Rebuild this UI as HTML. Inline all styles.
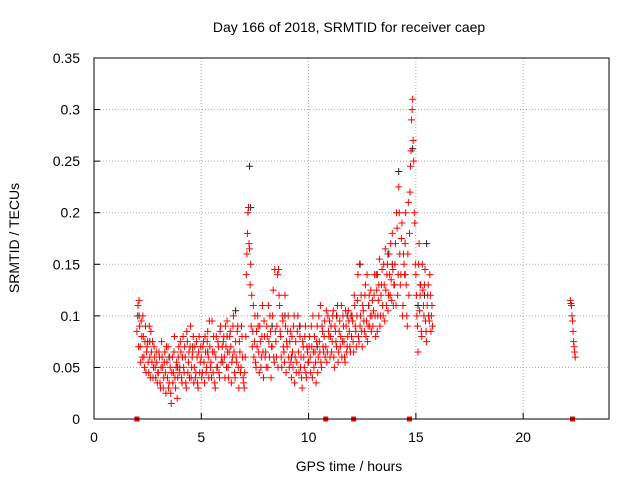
<!DOCTYPE html>
<html><head><meta charset="utf-8"><style>
body{margin:0;background:#fff}
svg{display:block;font-family:"Liberation Sans",sans-serif}
</style></head><body>
<svg id="chart" width="640" height="480">
<text x="349" y="32" text-anchor="middle" font-size="14">Day 166 of 2018, SRMTID for receiver caep</text>
<text x="349" y="471" text-anchor="middle" font-size="14">GPS time / hours</text>
<text transform="translate(19,238) rotate(-90)" text-anchor="middle" font-size="14">SRMTID / TECUs</text>
<g id="grid"></g>
<g id="ticks"></g>
<g id="black"></g>
<g id="red"></g>
<rect x="94" y="58" width="515" height="361" fill="none" stroke="#000"/>
</svg>
<script>
const xTicks=[0,5,10,15,20];
const yTicks=[0,0.05,0.1,0.15,0.2,0.25,0.3,0.35];
const yTickLabels=["0","0.05","0.1","0.15","0.2","0.25","0.3","0.35"];
const segmentStarts=[2,3,4,5,6,7,8,9,10,11,12,13,14,15,22.2];
const segmentValues=[
[.085,.11,.115,.07,.095,.06,.08,.05,.09,.065,.075,.045,.06,.085,.055,.04,.07,.05,.065,.035],
[.045,.06,.03,.075,.05,.04,.065,.025,.055,.07,.035,.05,.015,.06,.045,.08,.03,.055,.04,.07],
[.05,.065,.035,.08,.045,.06,.03,.075,.055,.04,.09,.05,.065,.035,.07,.045,.06,.03,.08,.055],
[.06,.045,.075,.035,.065,.05,.085,.04,.07,.055,.095,.045,.065,.03,.08,.05,.07,.04,.09,.06],
[.055,.08,.04,.07,.095,.05,.065,.085,.035,.06,.1,.045,.075,.055,.09,.03,.065,.05,.08,.04],
[.03,.06,.14,.18,.205,.165,.15,.12,.085,.06,.1,.05,.07,.09,.045,.075,.06,.11,.04,.08],
[.065,.09,.05,.075,.1,.04,.07,.125,.055,.085,.06,.14,.145,.11,.08,.05,.095,.065,.12,.045],
[.07,.1,.05,.085,.04,.065,.09,.035,.075,.055,.1,.045,.08,.06,.03,.07,.05,.09,.04,.065],
[.055,.08,.045,.07,.1,.05,.065,.035,.09,.06,.075,.11,.05,.085,.065,.095,.07,.055,.1,.08],
[.06,.09,.075,.105,.05,.085,.07,.11,.065,.095,.08,.06,.1,.075,.055,.09,.07,.105,.085,.065],
[.08,.095,.065,.11,.085,.1,.14,.075,.09,.12,.07,.105,.085,.13,.095,.075,.11,.09,.125,.1],
[.09,.12,.1,.14,.085,.115,.155,.1,.13,.11,.15,.095,.125,.14,.105,.16,.12,.135,.18,.11],
[.13,.17,.2,.12,.225,.16,.14,.19,.11,.15,.17,.13,.09,.21,.18,.245,.29,.31,.25,.19],
[.14,.1,.065,.17,.12,.085,.15,.11,.13,.095,.075,.12,.1,.14,.085,.11],
[.115,.11,.095,.075,.065]
];
const segmentValues2=[
[.1,.07,.09,.055,.08,.1,.06,.075,.045,.07,.055,.09,.04,.065,.075,.05,.06,.04,.055,.045],
[.065,.035,.05,.06,.03,.055,.045,.07,.04,.03,.06,.025,.045,.035,.065,.04,.05,.02,.06,.045],
[.075,.04,.06,.05,.07,.035,.085,.045,.065,.07,.04,.06,.08,.05,.04,.075,.035,.065,.045,.07],
[.04,.07,.055,.08,.045,.075,.06,.095,.05,.04,.065,.08,.035,.06,.05,.075,.045,.085,.055,.07],
[.075,.06,.09,.05,.065,.04,.08,.07,.055,.09,.065,.04,.06,.085,.05,.075,.045,.09,.06,.035],
[.045,.08,.16,.2,.17,.13,.09,.07,.11,.075,.055,.085,.1,.065,.09,.05,.08,.065,.095,.06],
[.05,.08,.11,.06,.085,.07,.1,.06,.145,.075,.09,.05,.12,.085,.06,.1,.07,.055,.09,.075],
[.085,.06,.075,.055,.08,.05,.1,.06,.045,.085,.065,.09,.05,.04,.075,.06,.08,.045,.07,.055],
[.07,.06,.09,.04,.065,.08,.055,.075,.045,.1,.065,.055,.09,.07,.08,.06,.105,.065,.085,.095],
[.08,.065,.1,.06,.09,.075,.1,.055,.085,.07,.11,.075,.09,.06,.105,.065,.08,.095,.07,.1],
[.1,.075,.12,.09,.07,.115,.08,.15,.1,.085,.11,.095,.12,.08,.14,.09,.12,.1,.085,.115],
[.105,.14,.08,.125,.1,.13,.09,.12,.145,.1,.13,.165,.11,.15,.12,.14,.17,.115,.145,.13],
[.15,.11,.185,.14,.2,.13,.175,.1,.16,.14,.2,.1,.16,.12,.22,.26,.3,.27,.2,.15],
[.12,.09,.15,.105,.13,.08,.125,.1,.145,.085,.11,.13,.095,.12,.1,.09],
[.112,.1,.085,.07,.06]
];
const blackTimes=[2.1,3.5,7.25,7.3,8.9,12.4,13.7,14.2,14.85,15.2,15.5,4.6,6.6,9.6,11.3,13.2,2.6,3.9,5.3,6.2,8.3,9.2,10.4,11.8,12.8,13.9,14.5,15.1,15.4,15.6];
const blackValues=[.1,.06,.245,.205,.1,.15,.16,.24,.262,.13,.17,.07,.105,.09,.1,.14,.075,.05,.065,.08,.09,.06,.07,.1,.11,.15,.14,.11,.12,.1];
const zeroTimes=[2.0,10.8,12.1,14.7,22.3];
const zeroValues=[0,0,0,0,0];
const step=0.05;
const X=t=>94+t*(515/24);
const Y=v=>419-v*(361/0.35);
const NS="http://www.w3.org/2000/svg";
function mk(tag,attrs,parent){const e=document.createElementNS(NS,tag);for(const k in attrs)e.setAttribute(k,attrs[k]);parent.appendChild(e);return e;}
const grid=document.getElementById('grid'),ticks=document.getElementById('ticks');
xTicks.forEach(t=>{
 if(t>0){const l=mk('line',{x1:X(t),x2:X(t),y1:58,y2:419,stroke:'#aaa','stroke-dasharray':'1,2'},grid);
 
 }
 const tx=mk('text',{x:X(t),y:442,'text-anchor':'middle','font-size':'14'},ticks);tx.textContent=t;
 
 
 mk('line',{x1:X(t),x2:X(t),y1:419,y2:413,stroke:'#000'},ticks);
});
yTicks.forEach((v,i)=>{
 if(i>0&&i<yTicks.length-1){const l=mk('line',{x1:94,x2:609,y1:Y(v),y2:Y(v),stroke:'#aaa','stroke-dasharray':'1,2'},grid);
 
 }
 const tx=mk('text',{x:80,y:Y(v)+5,'text-anchor':'end','font-size':'14'},ticks);tx.textContent=yTickLabels[i];
 
 
 mk('line',{x1:94,x2:100,y1:Y(v),y2:Y(v),stroke:'#000'},ticks);
});
function plus(g,t,v,c,name){
 const x=X(t),y=Y(v);
 const p=mk('path',{d:`M${x-3.5} ${y}H${x+3.5}M${x} ${y-3.5}V${y+3.5}`,stroke:c,'stroke-width':1,fill:'none'},g);
 
 
}
const blackG=document.getElementById('black'),redG=document.getElementById('red');
blackTimes.forEach((t,i)=>plus(blackG,t,blackValues[i],'#222','black-point'));
segmentStarts.forEach((s,k)=>segmentValues[k].forEach((v,j)=>plus(redG,s+j*step,v,'#f00','red-point')));
segmentStarts.forEach((s,k)=>segmentValues2[k].forEach((v,j)=>plus(redG,s+j*step+step/2,v,'#f00','red-point')));
zeroTimes.forEach((t,i)=>{
 const r=mk('rect',{x:X(t)-2.5,y:Y(zeroValues[i])-2.5,width:5,height:5,fill:'#f00'},redG);
 
 
});
</script>
</body></html>
